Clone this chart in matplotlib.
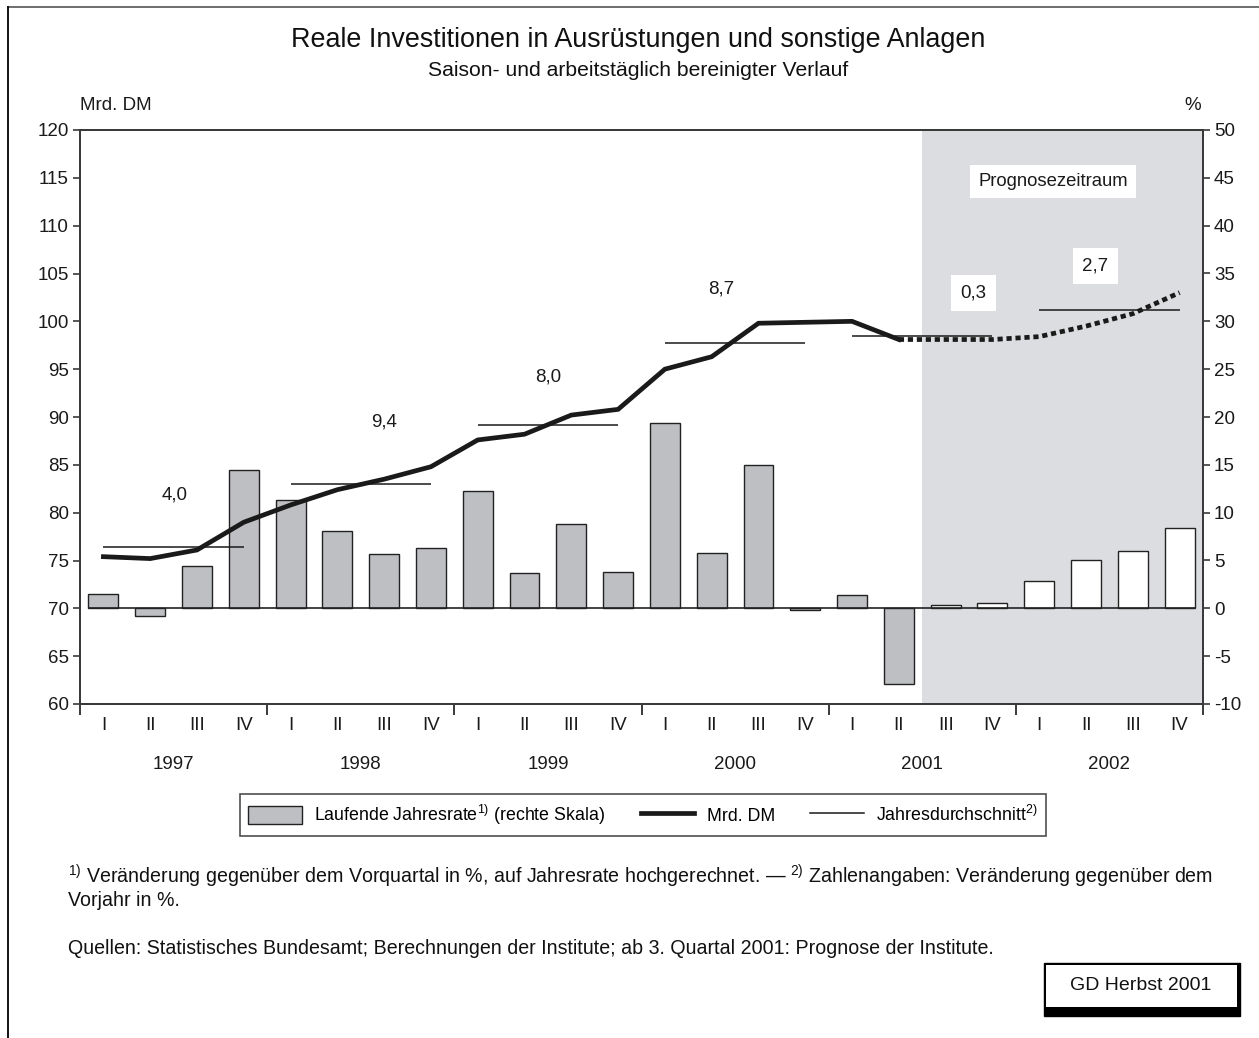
import matplotlib
matplotlib.use("Agg")
import matplotlib.pyplot as plt
import numpy as np
from matplotlib.patches import Rectangle, Patch
from matplotlib.lines import Line2D

plt.rcParams['font.family'] = ['Liberation Sans', 'DejaVu Sans']
plt.rcParams['mathtext.fontset'] = 'custom'
plt.rcParams['mathtext.rm'] = 'Liberation Sans'
plt.rcParams['axes.unicode_minus'] = False

# Daten (Quartale 1997 I bis 2002 IV)
jahre = ['1997', '1998', '1999', '2000', '2001', '2002']
quartale = ['I', 'II', 'III', 'IV']
# Laufende Jahresrate in % (rechte Skala)
jahresrate = [1.5, -0.8, 4.4, 14.5, 11.3, 8.1, 5.7, 6.3, 12.3, 3.7, 8.8, 3.8,
              19.4, 5.8, 15.0, -0.2, 1.4, -7.9, 0.3, 0.6, 2.9, 5.0, 6.0, 8.4]
# Mrd. DM (linke Skala)
niveau = [75.4, 75.2, 76.1, 79.0, 80.8, 82.4, 83.5, 84.8, 87.6, 88.2, 90.2, 90.8,
          95.0, 96.3, 99.8, 99.9, 100.0, 98.1, 98.1, 98.1, 98.4, 99.5, 100.8, 103.0]
# Jahresdurchschnitt in Mrd. DM und Veraenderung gegenueber Vorjahr
jahresschnitt = [76.4, 83.0, 89.2, 97.7, 98.5, 101.2]
veraenderung = ['4,0', '9,4', '8,0', '8,7', '0,3', '2,7']
prognose_ab = 18   # 2001 III

# Lage der Beschriftungen (x in Quartalen, y in Mrd. DM)
label_pos = [(1.53, 81.8), (6.0, 89.5), (9.5, 94.2), (13.2, 103.4), (18.6, 103.0), (21.2, 105.8)]

W, H = 1259, 1038
fig = plt.figure(figsize=(W / 100, H / 100), dpi=100)

def fx(px):
    return px / W

def fy(py):
    return 1 - py / H

ax = fig.add_axes([fx(80), fy(704), fx(1203) - fx(80), fy(130) - fy(704)])
ax2 = ax.twinx()
ax.set_zorder(ax2.get_zorder() + 1)
ax.patch.set_visible(False)

n = len(niveau)
x = np.arange(n)
fs = 13.5

# Prognosezeitraum
ax2.axvspan(prognose_ab - 0.5, n - 0.5, color='#dcdde0', zorder=0, lw=0)

# Balken
farben = ['#bebfc3' if i < prognose_ab else 'white' for i in range(n)]
ax2.bar(x, jahresrate, width=0.64, color=farben, edgecolor='#222222', linewidth=1.0, zorder=2)
ax2.hlines(0, -0.32, n - 1 + 0.32, color='#222222', lw=1.2, zorder=3)

# Linie Mrd. DM
ax.plot(x[:prognose_ab], niveau[:prognose_ab], color='#1a1a1a', lw=3.4,
        solid_joinstyle='miter', zorder=5)
ax.plot(x[prognose_ab - 1:], niveau[prognose_ab - 1:], color='#1a1a1a', lw=3.4,
        linestyle=(0, (1.1, 0.8)), dash_capstyle='butt', zorder=5)

# Jahresdurchschnitte
for k, v in enumerate(jahresschnitt):
    ax.hlines(v, 4 * k, 4 * k + 3, color='#1a1a1a', lw=1.1, zorder=4)

for k, (lx, ly) in enumerate(label_pos):
    if k >= 4:
        ax.text(lx, ly, veraenderung[k], ha='center', va='center', fontsize=fs, color='#1a1a1a',
                zorder=6, bbox=dict(boxstyle='square,pad=0.5', fc='white', ec='none'))
    else:
        ax.text(lx, ly, veraenderung[k], ha='center', va='center', fontsize=fs,
                color='#1a1a1a', zorder=6)

ax.text(20.3, 114.6, 'Prognosezeitraum', ha='center', va='center', fontsize=13.3, color='#1a1a1a',
        zorder=6, bbox=dict(boxstyle='square,pad=0.45', fc='white', ec='none'))

# Achsen
ax.set_xlim(-0.5, n - 0.5)
ax.set_ylim(60, 120)
ax2.set_ylim(-10, 50)
ax.set_yticks(np.arange(60, 121, 5))
ax2.set_yticks(np.arange(-10, 51, 5))
for a in (ax, ax2):
    for s in a.spines.values():
        s.set_color('#3a3a3a')
        s.set_linewidth(1.4)
ax.tick_params(axis='y', direction='out', length=5, width=1.2, color='#3a3a3a',
               labelsize=fs, pad=3, labelcolor='#1a1a1a')
ax2.tick_params(axis='y', direction='out', length=5, width=1.2, color='#3a3a3a',
                labelsize=fs, pad=3, labelcolor='#1a1a1a')

ax.set_xticks(x)
ax.set_xticklabels(quartale * len(jahre), fontsize=fs, color='#1a1a1a')
ax.tick_params(axis='x', which='major', length=0, pad=9)
ax.set_xticks(np.arange(-0.5, n, 4), minor=True)
ax.tick_params(axis='x', which='minor', direction='out', length=8, width=1.4, color='#3a3a3a')
for k, j in enumerate(jahre):
    ax.text(4 * k + 1.5, -0.105, j, transform=ax.get_xaxis_transform(), ha='center',
            va='center', fontsize=fs, color='#1a1a1a')

fig.text(fx(80), fy(106), 'Mrd. DM', ha='left', va='center', fontsize=fs, color='#1a1a1a')
fig.text(fx(1193), fy(106), '%', ha='center', va='center', fontsize=fs, color='#1a1a1a')

# Titel
fig.text(fx(638), fy(40), 'Reale Investitionen in Ausrüstungen und sonstige Anlagen',
         ha='center', va='center', fontsize=19.4, color='#111111')
fig.text(fx(638), fy(70), 'Saison- und arbeitstäglich bereinigter Verlauf',
         ha='center', va='center', fontsize=15.2, color='#111111')

# Legende
handles = [Patch(facecolor='#bebfc3', edgecolor='#222222', lw=1.0),
           Line2D([], [], color='#1a1a1a', lw=3.4),
           Line2D([], [], color='#1a1a1a', lw=1.1)]
labels = [r'Laufende Jahresrate$^{\mathregular{1)}}$ (rechte Skala)', 'Mrd. DM',
          r'Jahresdurchschnitt$^{\mathregular{2)}}$']
leg = fig.legend(handles, labels, loc='center', bbox_to_anchor=(fx(643), fy(815)), ncol=3,
                 fontsize=12.8, frameon=True, fancybox=False, edgecolor='#222222',
                 handlelength=3.0, handleheight=1.2, columnspacing=2.0, borderpad=0.5,
                 handletextpad=0.7)
leg.get_frame().set_linewidth(1.2)

# Fussnoten
fs_fn = 14.1
fig.text(fx(68), fy(876), r'$^{\mathregular{1)}}$ Veränderung gegenüber dem Vorquartal in %, auf Jahresrate '
         r'hochgerechnet. — $^{\mathregular{2)}}$ Zahlenangaben: Veränderung gegenüber dem',
         ha='left', va='center', fontsize=fs_fn, color='#111111')
fig.text(fx(68), fy(900), 'Vorjahr in %.', ha='left', va='center', fontsize=fs_fn, color='#111111')
fig.text(fx(68), fy(948), 'Quellen: Statistisches Bundesamt; Berechnungen der Institute; '
         'ab 3. Quartal 2001: Prognose der Institute.', ha='left', va='center',
         fontsize=fs_fn, color='#111111')

# Kasten GD Herbst 2001
fig.patches.append(Rectangle((fx(1044), fy(1016)), fx(1240) - fx(1044), fy(963) - fy(1016),
                             transform=fig.transFigure, fc='black', ec='black'))
fig.patches.append(Rectangle((fx(1046), fy(1007)), fx(1237) - fx(1046), fy(965) - fy(1007),
                             transform=fig.transFigure, fc='white', ec='none'))
fig.text(fx(1141), fy(986), 'GD Herbst 2001', ha='center', va='center', fontsize=14,
         color='#111111')

# Rahmen
fig.add_artist(Line2D([fx(8), fx(1259)], [fy(7), fy(7)], color='#555555', lw=1.2))
fig.add_artist(Line2D([fx(8), fx(8)], [fy(7), fy(1038)], color='#111111', lw=1.4))

fig.savefig('out.png', dpi=100)
